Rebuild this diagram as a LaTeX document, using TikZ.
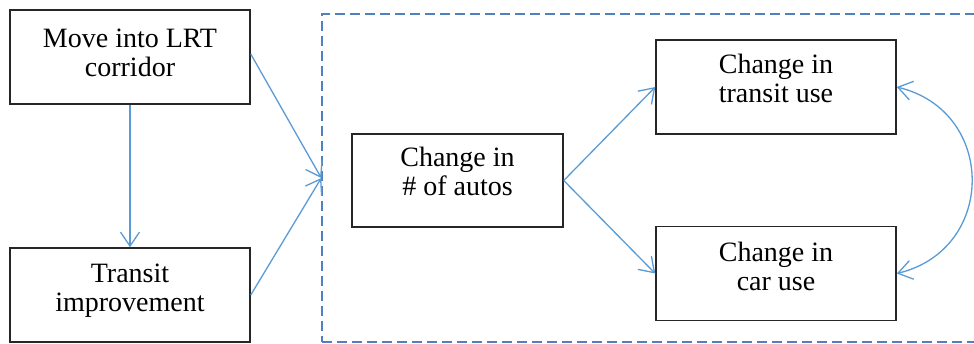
\documentclass[tikz,border=0pt]{standalone}
\usepackage{fontspec}
\setmainfont{Liberation Serif}
\usetikzlibrary{arrows.meta}
\definecolor{arrowblue}{HTML}{5B9BD5}
\definecolor{dashblue}{HTML}{4F81BD}
\begin{document}
\begin{tikzpicture}[x=1pt,y=-1pt,
  box/.style={draw=black!85,line width=1.5pt,minimum width=240pt,minimum height=94pt,inner sep=0pt},
  txt/.style={align=center,font=\fontsize{28}{29}\selectfont,inner sep=0pt},
  tip/.style={Straight Barb[length=14pt,width=19pt,line width=1.3pt]},
  conn/.style={draw=arrowblue,line width=1.3pt,-{Straight Barb[length=14pt,width=19pt,line width=1.3pt]}},
  both/.style={draw=arrowblue,line width=1.3pt,{Straight Barb[length=14pt,width=19pt,line width=1.3pt]}-{Straight Barb[length=14pt,width=19pt,line width=1.3pt]}},
  grpbox/.style={draw=dashblue,line width=1.4pt,dash pattern=on 10pt off 5pt,minimum width=680pt,minimum height=328pt,inner sep=0pt}]
\useasboundingbox (0,0) rectangle (974,343);
\clip (0,0) rectangle (974,343);
\node[grpbox] (grp) at (662,178) {};
\node[box] (b1) at (130,57) {};
\node[txt] (t1) at ([yshift=4pt]b1.center) {Move into LRT\\corridor};
\node[box,minimum height=94pt] (b2) at (130,295) {};
\node[txt] (t2) at ([yshift=4pt]b2.center) {Transit\\improvement};
\node[box,minimum width=211pt,minimum height=93pt] (b3) at (457.5,180.5) {};
\node[txt] (t3) at ([yshift=9pt]b3.center) {Change in\\\# of autos};
\node[box] (b4) at (776,87) {};
\node[txt] (t4) at ([yshift=9pt]b4.center) {Change in\\transit use};
\node[box] (b5) at (776,273.5) {};
\node[txt] (t5) at ([yshift=7pt]b5.center) {Change in\\car use};
\path[conn] (b1.south) -- (b2.north);
\path[conn] ([yshift=3pt]b1.east) -- (grp.west);
\path[conn] (b2.east) -- (grp.west);
\path[conn] (b3.east) -- (b4.west);
\path[conn] (b3.east) -- (b5.west);
\path[both] (b4.east) .. controls +(100,24) and +(100,-24) .. (b5.east);
\end{tikzpicture}
\end{document}
